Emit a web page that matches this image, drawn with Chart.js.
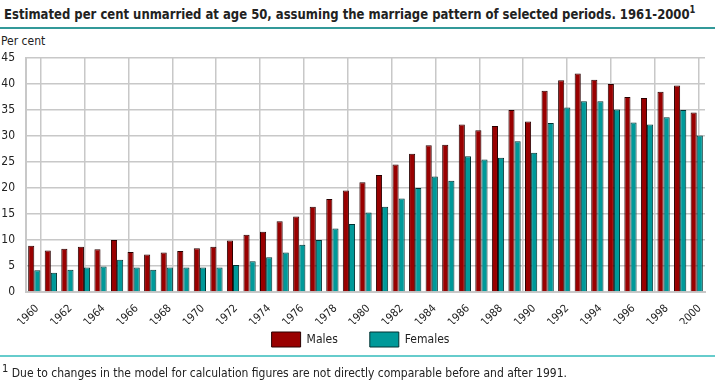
<!DOCTYPE html>
<html>
<head>
<meta charset="utf-8">
<script src="https://cdn.jsdelivr.net/npm/chart.js@4"></script>
<style>
  body { margin: 0; width: 715px; height: 382px; position: relative; overflow: hidden; background: #fff;
         font-family: 'DejaVu Sans Condensed', sans-serif; color: #222; }
  #title { position: absolute; left: 4px; top: 4px; font-weight: bold; font-size: 14px; white-space: nowrap;
           transform-origin: left top; }
  #title sup { font-size: 10px; }
  #note sup { font-size: 11px; }
  .rule { position: absolute; left: 0; width: 715px; height: 2px; }
  #rule-top { top: 27px; background: #339999; }
  #rule-bottom { top: 355px; background: #66cccc; }
  #unit { position: absolute; left: 1px; top: 34px; font-size: 12px; }
  #note { position: absolute; left: 2px; top: 362px; font-size: 12px; white-space: nowrap; }
  #wrap { position: absolute; left: 0; top: 0; width: 715px; height: 381px; }
</style>
</head>
<body>
<div id="title">Estimated per cent unmarried at age 50, assuming the marriage pattern of selected periods. 1961-2000<sup>1</sup></div>
<div class="rule" id="rule-top"></div>
<div id="unit">Per cent</div>
<div id="wrap"><canvas id="chart"></canvas></div>
<div class="rule" id="rule-bottom"></div>
<div id="note"><sup>1</sup> Due to changes in the model for calculation figures are not directly comparable before and after 1991.</div>

<script>
  // Years shown on the category axis
  const years = [];
  for (let y = 1960; y <= 2000; y++) years.push(String(y));

  // Per cent unmarried at age 50
  const males = [8.9, 8.0, 8.3, 8.7, 8.2, 10.0, 7.7, 7.2, 7.6, 7.9,
                 8.4, 8.7, 9.9, 11.0, 11.6, 13.6, 14.5, 16.4, 17.9, 19.5,
                 21.1, 22.5, 24.5, 26.6, 28.2, 28.3, 32.2, 31.1, 31.9, 35.0,
                 32.8, 38.7, 40.7, 42.0, 40.8, 40.0, 37.5, 37.3, 38.5, 39.7, 34.5];
  const females = [4.2, 3.7, 4.3, 4.7, 4.9, 6.2, 4.7, 4.3, 4.7, 4.7,
                   4.7, 4.7, 5.2, 5.9, 6.7, 7.6, 9.1, 10.0, 12.2, 13.1,
                   15.3, 16.4, 18.0, 20.0, 22.2, 21.4, 26.1, 25.5, 25.8, 29.0,
                   26.8, 32.5, 35.5, 36.7, 36.7, 35.1, 32.6, 32.2, 33.6, 35.0, 30.1];

  const yTicks = [0, 5, 10, 15, 20, 25, 30, 35, 40, 45];

  const GRID = '#c8c8c8';

  // squeeze the title to the width it has in the original
  const title = document.getElementById('title');
  title.style.transform = 'scaleX(' + (691 / title.offsetWidth) + ')';

  Chart.defaults.font.family = "'DejaVu Sans Condensed', sans-serif";
  Chart.defaults.color = '#222';

  // legend padding also sets the gap between items, so pull the box back up afterwards
  const legendNudge = {
    id: 'legendNudge',
    afterLayout(chart) {
      const lg = chart.legend;
      if (!lg) return;
      lg.top -= 24;
      lg.bottom -= 24;
      lg.left += 8;
      lg.right += 8;
    }
  };

  new Chart(document.getElementById('chart'), {
    type: 'bar',
    data: {
      labels: years,
      datasets: [
        {
          label: 'Males',
          data: males,
          backgroundColor: '#990000',
          borderColor: '#2a0000',
          borderWidth: 1,
          borderSkipped: 'bottom'
        },
        {
          label: 'Females',
          data: females,
          backgroundColor: '#009999',
          borderColor: '#003333',
          borderWidth: 1,
          borderSkipped: 'bottom'
        }
      ]
    },
    plugins: [legendNudge],
    options: {
      responsive: true,
      maintainAspectRatio: false,
      animation: false,
      layout: { padding: { top: 58, right: 10, left: 0, bottom: 0 } },
      categoryPercentage: 0.74,
      barPercentage: 1.0,
      plugins: {
        legend: {
          position: 'bottom',
          labels: {
            boxWidth: 29,
            boxHeight: 15,
            padding: 32,
            font: { size: 12 },
            color: '#222'
          }
        },
        tooltip: { enabled: false }
      },
      scales: {
        x: {
          grid: { display: false },
          border: { display: true, color: GRID, width: 2 },
          ticks: {
            autoSkip: false,
            maxRotation: 45,
            minRotation: 45,
            padding: 2,
            labelOffset: 3,
            font: { size: 11 },
            callback: function(val, i) { return i % 2 === 0 ? years[i] : ''; }
          },
          afterFit: function(scale) { scale.height = 32; }
        },
        // extra axis that only carries the vertical grid lines
        xgrid: {
          type: 'linear',
          position: 'top',
          min: 0,
          max: 14.447,
          ticks: { display: false },
          border: { display: false },
          grid: { color: GRID, lineWidth: 1.5, drawTicks: false },
          afterBuildTicks: function(scale) {
            const t = [];
            for (let k = 0; k <= 14; k++) t.push({ value: 0.319 + k });
            scale.ticks = t;
          },
          afterFit: function(scale) { scale.height = 0; }
        },
        y: {
          min: 0,
          max: 45,
          grid: { color: GRID, lineWidth: 1.5, drawTicks: false },
          border: { display: true, color: GRID, width: 2 },
          ticks: {
            padding: 11,
            font: { size: 12 },
            color: '#222'
          },
          afterBuildTicks: function(scale) {
            scale.ticks = yTicks.map(v => ({ value: v }));
          },
          afterFit: function(scale) { scale.width = 26; }
        }
      }
    }
  });
</script>
</body>
</html>
